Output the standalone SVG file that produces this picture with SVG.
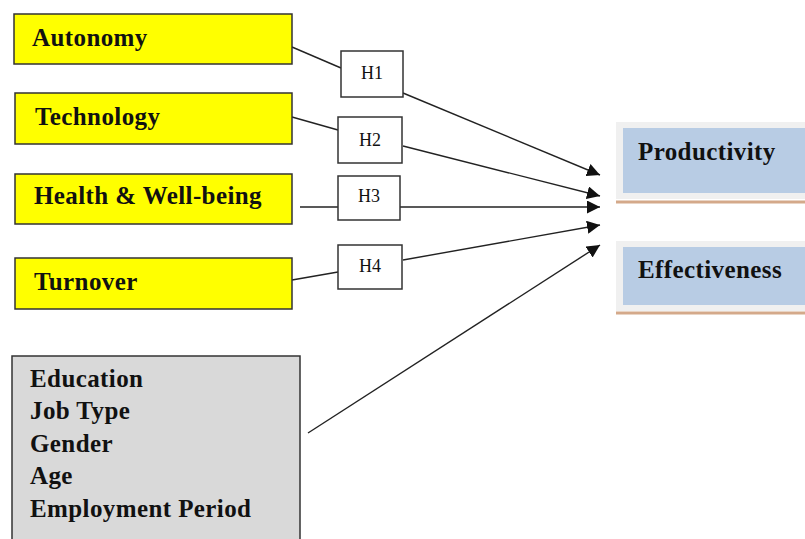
<svg xmlns="http://www.w3.org/2000/svg" width="805" height="539" viewBox="0 0 805 539">
<defs>
<style>
.yb{fill:#ffff00;stroke:#333;stroke-width:1.5}
.hb{fill:#fff;stroke:#333;stroke-width:1.5}
.gb{fill:#d9d9d9;stroke:#333;stroke-width:1.5}
.t{font-family:"Liberation Serif","Times New Roman",serif;font-weight:bold;font-size:25px;letter-spacing:0.4px;fill:#111}
.h{font-family:"Liberation Serif","Times New Roman",serif;font-size:18px;fill:#111;text-anchor:middle}
.c{stroke:#222;stroke-width:1.4;fill:none}
.outer{fill:#f0f0f0}
.inner{fill:#b8cce4}
.tan{stroke:#d4a98a;stroke-width:3}
</style>
<marker id="ah" viewBox="0 0 10 10" refX="10" refY="5" markerWidth="13" markerHeight="13" markerUnits="userSpaceOnUse" orient="auto">
<path d="M0,0 L10,5 L0,10 z" fill="#111"/>
</marker>
</defs>
<rect width="805" height="539" fill="#fff"/>
<g id="connectors">
<line class="c" x1="292" y1="47" x2="341" y2="68"/>
<line class="c" x1="403" y1="93" x2="600" y2="175" marker-end="url(#ah)"/>
<line class="c" x1="292" y1="117" x2="338" y2="130"/>
<line class="c" x1="403" y1="146" x2="600" y2="196" marker-end="url(#ah)"/>
<line class="c" x1="300" y1="207" x2="338" y2="207"/>
<line class="c" x1="400" y1="207" x2="600" y2="207" marker-end="url(#ah)"/>
<line class="c" x1="292" y1="280" x2="338" y2="272"/>
<line class="c" x1="403" y1="260" x2="600" y2="225" marker-end="url(#ah)"/>
<line class="c" x1="308" y1="433" x2="600" y2="245" marker-end="url(#ah)"/>
</g>
<g id="autonomy"><rect class="yb" x="14" y="14" width="278" height="50"/><text class="t" x="32" y="46">Autonomy</text></g>
<g id="technology"><rect class="yb" x="15" y="93" width="277" height="51"/><text class="t" x="35" y="125">Technology</text></g>
<g id="health"><rect class="yb" x="15" y="174" width="277" height="50"/><text class="t" x="34" y="204">Health &amp; Well-being</text></g>
<g id="turnover"><rect class="yb" x="15" y="258" width="277" height="51"/><text class="t" x="34" y="290">Turnover</text></g>
<g id="controls"><rect class="gb" x="12" y="356" width="288" height="190"/>
<text class="t" x="30" y="387">Education</text>
<text class="t" x="30" y="419">Job Type</text>
<text class="t" x="30" y="452">Gender</text>
<text class="t" x="30" y="484">Age</text>
<text class="t" x="30" y="517">Employment Period</text>
</g>
<g id="h1"><rect class="hb" x="341" y="51" width="62" height="46"/><text class="h" x="372" y="79">H1</text></g>
<g id="h2"><rect class="hb" x="338" y="117" width="64" height="46"/><text class="h" x="370" y="146">H2</text></g>
<g id="h3"><rect class="hb" x="338" y="176" width="62" height="44"/><text class="h" x="369" y="202">H3</text></g>
<g id="h4"><rect class="hb" x="338" y="245" width="64" height="44"/><text class="h" x="370" y="272">H4</text></g>
<g id="productivity"><rect class="outer" x="616" y="122" width="189" height="77"/><rect class="inner" x="623" y="128" width="182" height="65"/><line class="tan" x1="616" y1="202" x2="805" y2="202"/><text class="t" x="638" y="160">Productivity</text></g>
<g id="effectiveness"><rect class="outer" x="616" y="241" width="189" height="70"/><rect class="inner" x="623" y="247" width="182" height="58"/><line class="tan" x1="616" y1="313" x2="805" y2="313"/><text class="t" x="638" y="278">Effectiveness</text></g>
</svg>
